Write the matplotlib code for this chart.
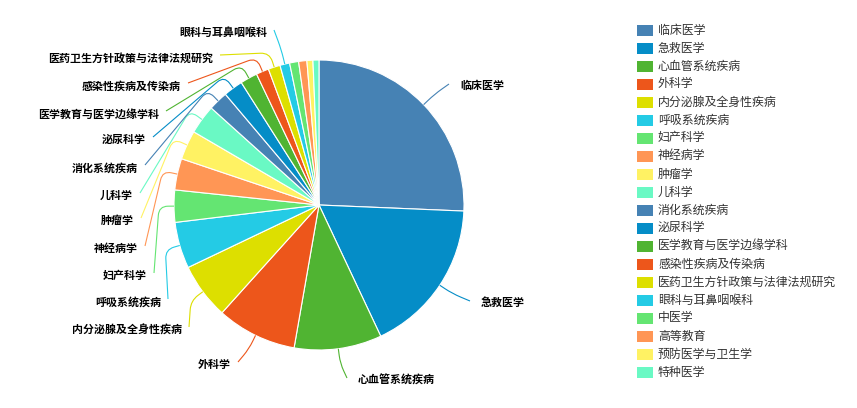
import matplotlib
matplotlib.use('Agg')
import matplotlib.pyplot as plt
import numpy as np
from matplotlib.path import Path
from matplotlib.patches import PathPatch, Rectangle

plt.rcParams['font.family'] = ['Noto Sans CJK SC', 'DejaVu Sans']

# 学科分布
categories = ['临床医学', '急救医学', '心血管系统疾病', '外科学', '内分泌腺及全身性疾病',
              '呼吸系统疾病', '妇产科学', '神经病学', '肿瘤学', '儿科学',
              '消化系统疾病', '泌尿科学', '医学教育与医学边缘学科', '感染性疾病及传染病',
              '医药卫生方针政策与法律法规研究', '眼科与耳鼻咽喉科', '中医学', '高等教育',
              '预防医学与卫生学', '特种医学']
counts = [308, 208, 117, 107, 75, 62, 43, 42, 39, 39, 26, 26, 23, 17, 16, 13, 12, 11, 8, 8]

palette = ['#4682B4', '#058DC7', '#50B432', '#ED561B', '#DDDF00',
           '#24CBE5', '#64E572', '#FF9655', '#FFF263', '#6AF9C4']
colors = [palette[i % len(palette)] for i in range(len(categories))]

# end points of the label lines (pixels from top-left), one per labelled slice
label_ends = [(449, 84), (470, 301), (347, 378), (238, 362), (189, 327),
              (168, 299), (154, 273), (145, 246), (141, 218), (140, 193),
              (145, 165), (153, 137), (166, 111), (188, 83), (220, 55), (274, 30)]

W, H = 857, 408
cx, cy, R = 319, 205, 145


def px(x, y):
    return np.array([x, H - y], dtype=float)


def leader(ax, p0, p1, p2, color, rad=10):
    d1 = p0 - p1
    d2 = p2 - p1
    r = min(rad, np.linalg.norm(d1) * 0.6, np.linalg.norm(d2) * 0.5)
    a = p1 + d1 / np.linalg.norm(d1) * r
    b = p1 + d2 / np.linalg.norm(d2) * r
    path = Path([p0, a, p1, b, p2],
                [Path.MOVETO, Path.LINETO, Path.CURVE3, Path.CURVE3, Path.LINETO])
    ax.add_patch(PathPatch(path, facecolor='none', edgecolor=color, lw=0.8))


fig = plt.figure(figsize=(W / 100, H / 100), dpi=100)
ax = fig.add_axes([0, 0, 1, 1])
ax.pie(counts, colors=colors, startangle=90, counterclock=False,
       center=tuple(px(cx, cy)), radius=R,
       wedgeprops=dict(edgecolor='white', linewidth=0.8))
ax.set_xlim(0, W)
ax.set_ylim(0, H)
ax.set_aspect('auto')
ax.axis('off')

# label lines and labels
total = float(sum(counts))
cum = np.cumsum(counts)
center = px(cx, cy)
for i, (ex, ey) in enumerate(label_ends):
    theta = np.deg2rad(360 * (cum[i] - counts[i] / 2) / total)
    u = np.array([np.sin(theta), np.cos(theta)])
    p0 = center + u * R
    p1 = center + u * (R + 15)
    p2 = px(ex, ey)
    leader(ax, p0, p1, p2, colors[i])
    if ex > cx:
        ax.text(*px(ex + 11, ey + 2), categories[i], ha='left', va='center',
                fontsize=7.9, color='black', fontweight='bold')
    else:
        ax.text(*px(ex - 7, ey + 3), categories[i], ha='right', va='center',
                fontsize=7.9, color='black', fontweight='bold')

# legend
for i, name in enumerate(categories):
    y = 30 + 18 * i
    ax.add_patch(Rectangle(px(637, y + 5.5), 16, 11, facecolor=colors[i], edgecolor='none'))
    ax.text(*px(658, y), name, ha='left', va='center', fontsize=8.6, color='#333333')

plt.savefig('out.png', dpi=100)
